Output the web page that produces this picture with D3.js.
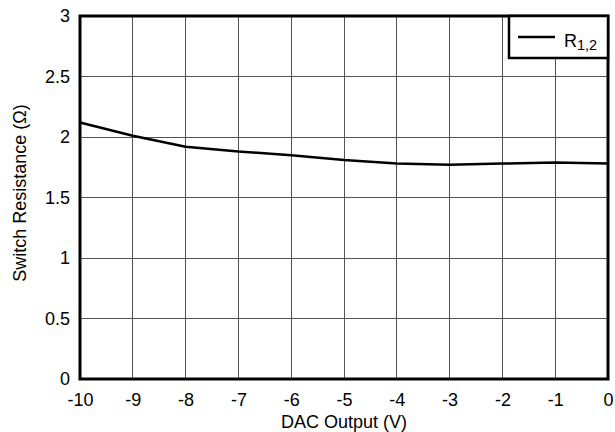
<!DOCTYPE html>
<html>
<head>
<meta charset="utf-8">
<script src="https://cdn.jsdelivr.net/npm/d3@7"></script>
<style>
  html, body { margin: 0; padding: 0; background: #fff; }
  text { font-family: "Liberation Sans", Arial, Helvetica, sans-serif; fill: #000; }
</style>
</head>
<body>
<svg id="chart" width="615" height="432"></svg>
<script>
// DAC output voltage (V) and switch resistance (Ω)
const dacOutput = [-10, -9, -8, -7, -6, -5, -4, -3, -2, -1, 0];
const resistance = [2.12, 2.01, 1.92, 1.88, 1.85, 1.81, 1.78, 1.77, 1.78, 1.79, 1.78];
const xTicks = [-10, -9, -8, -7, -6, -5, -4, -3, -2, -1, 0];
const yTicks = [0, 0.5, 1, 1.5, 2, 2.5, 3];
const seriesName = "R";
const seriesSub = "1,2";

const margin = { left: 80, right: 7, top: 16, bottom: 53 };
const W = 615, H = 432;
const svg = d3.select("#chart");

const x = d3.scaleLinear().domain([-10, 0]).range([margin.left, W - margin.right]);
const y = d3.scaleLinear().domain([0, 3]).range([H - margin.bottom, margin.top]);

// grid
const grid = svg.append("g");
grid.selectAll("line.v").data(xTicks).join("line")
  .attr("x1", d => x(d)).attr("x2", d => x(d))
  .attr("y1", y(0)).attr("y2", y(3))
  .attr("stroke", "#555").attr("stroke-width", 1).attr("shape-rendering", "crispEdges");
grid.selectAll("line.h").data(yTicks).join("line")
  .attr("y1", d => y(d)).attr("y2", d => y(d))
  .attr("x1", x(-10)).attr("x2", x(0))
  .attr("stroke", "#555").attr("stroke-width", 1).attr("shape-rendering", "crispEdges");

// tick labels via d3 axes (domain and tick marks hidden)
const xAxis = svg.append("g")
  .attr("transform", `translate(0,${y(0)})`)
  .call(d3.axisBottom(x).tickValues(xTicks).tickFormat(d => String(d)).tickSize(0).tickPadding(14));
const yAxis = svg.append("g")
  .attr("transform", `translate(${x(-10)},0)`)
  .call(d3.axisLeft(y).tickValues(yTicks).tickFormat(d => String(d)).tickSize(0).tickPadding(10));
[xAxis, yAxis].forEach(g => {
  g.select(".domain").remove();
  g.selectAll("text").attr("font-size", 18).attr("font-family", "Liberation Sans, Arial, sans-serif").attr("fill", "#000");
});
xAxis.selectAll("text").attr("dy", "0.71em");

// data line
svg.append("path")
  .datum(dacOutput.map((v, i) => [v, resistance[i]]))
  .attr("fill", "none").attr("stroke", "#000").attr("stroke-width", 2.5)
  .attr("stroke-linejoin", "round")
  .attr("d", d3.line().x(d => x(d[0])).y(d => y(d[1])));

// frame
svg.append("rect")
  .attr("x", x(-10)).attr("y", y(3))
  .attr("width", x(0) - x(-10)).attr("height", y(0) - y(3))
  .attr("fill", "none").attr("stroke", "#000").attr("stroke-width", 3);

// legend
const lg = svg.append("g");
lg.append("rect")
  .attr("x", 509).attr("y", y(3))
  .attr("width", x(0) - 509).attr("height", 42)
  .attr("fill", "#fff").attr("stroke", "#000").attr("stroke-width", 2.5);
lg.append("line")
  .attr("x1", 518).attr("x2", 555).attr("y1", 37).attr("y2", 37)
  .attr("stroke", "#000").attr("stroke-width", 2.5);
const lt = lg.append("text").attr("x", 564).attr("y", 46.5).attr("font-size", 18);
lt.append("tspan").text(seriesName);
lt.append("tspan").attr("font-size", 14.5).attr("dy", 3).text(seriesSub);

// axis titles
svg.append("text")
  .attr("x", (x(-10) + x(0)) / 2).attr("y", 428)
  .attr("text-anchor", "middle").attr("font-size", 18)
  .text("DAC Output (V)");
svg.append("text")
  .attr("transform", `translate(25.5,193) rotate(-90)`)
  .attr("text-anchor", "middle").attr("font-size", 18)
  .text("Switch Resistance (Ω)");
</script>
</body>
</html>
